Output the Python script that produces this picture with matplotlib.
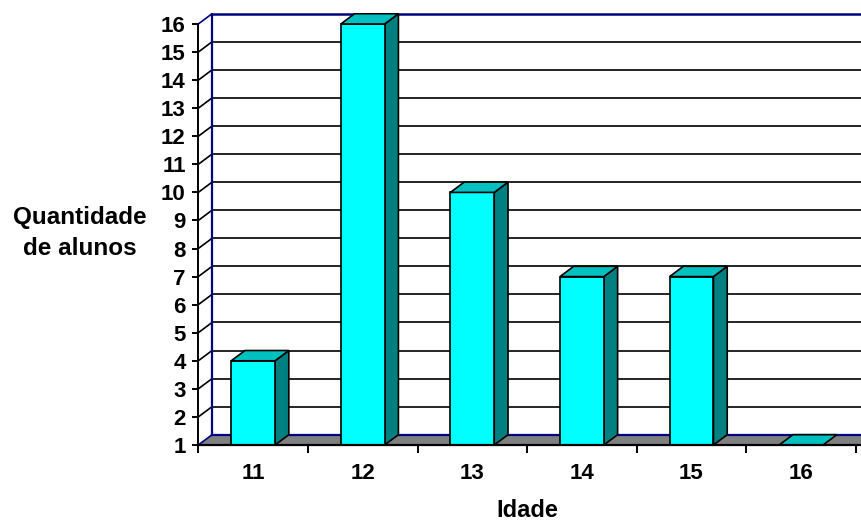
import matplotlib
matplotlib.use("Agg")
import matplotlib.pyplot as plt
from matplotlib.patches import Polygon, Rectangle
from matplotlib.ticker import FixedLocator

# Data
idades = ["11", "12", "13", "14", "15", "16"]
alunos = [4, 16, 10, 7, 7, 1]
y_ticks = list(range(1, 17))

# Colours
FRONT = "#00FFFF"
SIDE = "#008080"
TOP = "#00C0C0"
FLOOR = "#808080"
NAVY = "#000080"

plt.rcParams["font.family"] = ["Liberation Sans", "DejaVu Sans"]
plt.rcParams["font.weight"] = "bold"

W, H = 861, 522
fig = plt.figure(figsize=(W / 100, H / 100), dpi=100)
fig.patch.set_facecolor("white")

ax_left, ax_right, ax_bottom, ax_top = 198.3, 861.0, 445.0, 13.0
ax = fig.add_axes([ax_left / W, (H - ax_bottom) / H,
                   (ax_right - ax_left) / W, (ax_bottom - ax_top) / H])

n = len(idades)
px_x = 109.6                     # pixels per category
px_y = (445.0 - 24.0) / 15.0     # pixels per unit of value
xmax = (ax_right - ax_left) / px_x
ymin = 1
ymax = 1 + (ax_bottom - ax_top) / px_y
ax.set_xlim(0, xmax)
ax.set_ylim(ymin, ymax)

# depth of the 3-D effect in data units
DX = 13.8 / px_x
DY = 10.3 / px_y
bar_w = 0.40
lw = 1.2

# back wall gridlines
for v in y_ticks[1:-1]:
    ax.plot([DX, xmax], [v + DY, v + DY], color="black", lw=lw, zorder=1,
            solid_capstyle="butt")
# diagonal connectors from the front axis to the back wall
for v in y_ticks:
    c = NAVY if v in (y_ticks[0], y_ticks[-1]) else "black"
    ax.plot([0, DX], [v, v + DY], color=c, lw=lw, zorder=1.2)
# floor
ax.add_patch(Polygon([(0, ymin), (DX, ymin + DY), (xmax + 1, ymin + DY), (xmax + 1, ymin)],
                     closed=True, facecolor=FLOOR, edgecolor="none", zorder=1.1))
# back wall frame
ax.plot([DX, DX], [ymin + DY, y_ticks[-1] + DY], color=NAVY, lw=1.6, zorder=1.3)
ax.plot([DX, xmax], [y_ticks[-1] + DY] * 2, color=NAVY, lw=1.8, zorder=1.3)
ax.plot([DX, xmax], [ymin + DY] * 2, color=NAVY, lw=1.6, zorder=1.3)

# 3-D bars
for i, v in enumerate(alunos):
    x0 = i + 0.5 - bar_w / 2
    x1 = i + 0.5 + bar_w / 2
    if v > ymin:
        ax.add_patch(Polygon([(x1, ymin), (x1 + DX, ymin + DY), (x1 + DX, v + DY), (x1, v)],
                             closed=True, facecolor=SIDE, edgecolor="black", lw=lw, zorder=3))
        ax.add_patch(Rectangle((x0, ymin), bar_w, v - ymin, facecolor=FRONT,
                               edgecolor="black", lw=lw, zorder=3.1))
    ax.add_patch(Polygon([(x0, v), (x0 + DX, v + DY), (x1 + DX, v + DY), (x1, v)],
                         closed=True, facecolor=TOP, edgecolor="black", lw=lw, zorder=3.2))

# front axes
for s in ("top", "right"):
    ax.spines[s].set_visible(False)
ax.spines["left"].set_bounds(ymin, y_ticks[-1])
ax.spines["left"].set_linewidth(1.4)
ax.spines["bottom"].set_linewidth(1.6)
ax.spines["left"].set_zorder(4)
ax.spines["bottom"].set_zorder(4)
ax.set_facecolor("none")

ax.yaxis.set_major_locator(FixedLocator(y_ticks))
ax.set_yticklabels([str(v) for v in y_ticks], fontsize=16, fontweight="bold")
ax.tick_params(axis="y", direction="out", length=4, width=1.4, pad=5)

centers = [i + 0.5 for i in range(n)]
ax.xaxis.set_major_locator(FixedLocator(centers))
ax.set_xticklabels(idades, fontsize=16, fontweight="bold")
ax.xaxis.set_minor_locator(FixedLocator(list(range(n + 1))))
ax.tick_params(axis="x", which="major", length=0, pad=13)
ax.tick_params(axis="x", which="minor", direction="out", length=6, width=1.4)

ax.set_xlabel("Idade", fontsize=17, fontweight="bold")
ax.xaxis.set_label_coords((527 - ax_left) / (ax_right - ax_left),
                          -(499 - ax_bottom) / (ax_bottom - ax_top))

fig.text(80 / W, 1 - 233 / H, "Quantidade\nde alunos", ha="center", va="center",
         fontsize=17.5, fontweight="bold", linespacing=1.45)

fig.savefig("out.png", dpi=100, facecolor="white")
